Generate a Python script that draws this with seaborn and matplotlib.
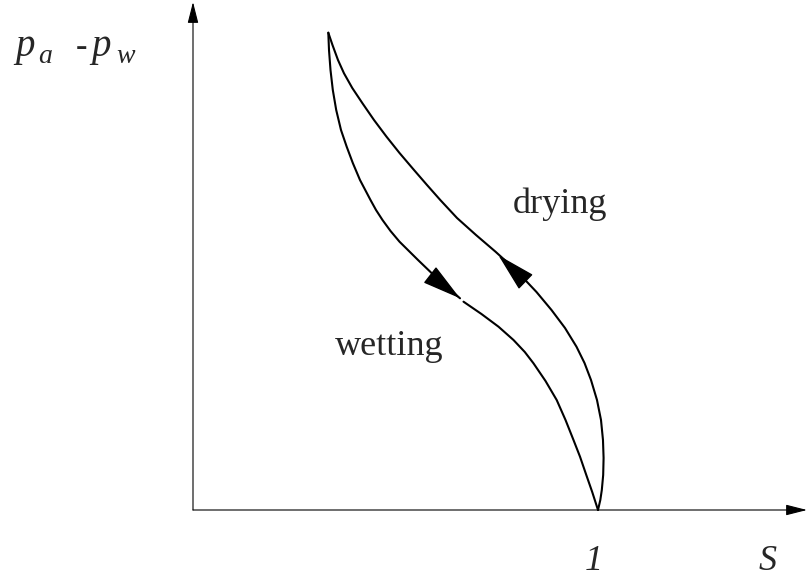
import matplotlib
matplotlib.use("Agg")
import matplotlib.pyplot as plt
import seaborn as sns
import pandas as pd

sns.set_theme(style="white")
plt.rcParams["font.family"] = ["Liberation Serif", "DejaVu Serif"]

# Wetting branch (saturation S, capillary pressure pa - pw), split at the arrow
wetting_upper_S = [0.3341, 0.3358, 0.3395, 0.3452, 0.3536, 0.3654, 0.3795, 0.3946,
                   0.4123, 0.4383, 0.4519, 0.4679, 0.4877, 0.5099, 0.5556, 0.6069,
                   0.6593]
wetting_upper_p = [0.9985, 0.9623, 0.9205, 0.8787, 0.8368, 0.7950, 0.7600, 0.7259,
                   0.6904, 0.6485, 0.6276, 0.6067, 0.5837, 0.5613, 0.5230, 0.4812,
                   0.4429]
wetting_lower_S = [0.6679, 0.7123, 0.7543, 0.7914, 0.8193, 0.8407, 0.8704, 0.8980,
                   0.9198, 0.9395, 0.9556, 0.9711, 0.9857, 1.0000]
wetting_lower_p = [0.4358, 0.4100, 0.3835, 0.3556, 0.3305, 0.3069, 0.2699, 0.2301,
                   0.1883, 0.1464, 0.1115, 0.0732, 0.0377, 0.0000]

# Drying branch
drying_S = [0.3341, 0.3444, 0.3580, 0.3728, 0.3933, 0.4185, 0.4469, 0.4778, 0.5099,
            0.5457, 0.5778, 0.6106, 0.6519, 0.6988, 0.7469, 0.7778, 0.8062, 0.8481,
            0.8852, 0.9185, 0.9469, 0.9667, 0.9827, 0.9975, 1.0074, 1.0123, 1.0138,
            1.0128, 1.0094, 1.0057, 1.0000]
drying_p = [0.9985, 0.9728, 0.9414, 0.9136, 0.8828, 0.8508, 0.8159, 0.7810, 0.7469,
            0.7113, 0.6799, 0.6485, 0.6109, 0.5753, 0.5404, 0.5167, 0.4937, 0.4561,
            0.4184, 0.3808, 0.3416, 0.3075, 0.2720, 0.2301, 0.1883, 0.1464, 0.1088,
            0.0732, 0.0418, 0.0209, 0.0000]

# Direction arrows: (tail, tip)
wetting_arrow = [(0.591, 0.488), (0.6593, 0.4429)]
drying_arrow = [(0.815, 0.483), (0.754, 0.533)]

branch_labels = ["wetting", "drying"]
branch_label_pos = [(0.351, 0.324), (0.790, 0.622)]

x_tick_value = 1
x_tick_label = "1"

df = pd.concat([
    pd.DataFrame({"S": wetting_upper_S, "p": wetting_upper_p, "seg": "w1"}),
    pd.DataFrame({"S": wetting_lower_S, "p": wetting_lower_p, "seg": "w2"}),
    pd.DataFrame({"S": drying_S, "p": drying_p, "seg": "d"}),
], ignore_index=True)

fig = plt.figure(figsize=(8.07, 5.79), dpi=100)
ax = fig.add_axes([0, 0, 1, 1])
ax.set_xlim(-193 / 405, 614 / 405)
ax.set_ylim(-69 / 478, 510 / 478)
ax.axis("off")

sns.lineplot(data=df, x="S", y="p", units="seg", estimator=None, sort=False,
             color="black", lw=1.5, ax=ax)

# Coordinate axes with arrowheads
axis_style = dict(arrowstyle="-|>,head_length=13,head_width=3.3", color="black",
                  lw=0.8, shrinkA=0, shrinkB=0, mutation_scale=1)
ax.annotate("", xy=(0, 508 / 478), xytext=(0, 0), arrowprops=axis_style)
ax.annotate("", xy=(614 / 405, 0), xytext=(0, 0), arrowprops=axis_style)

# Flow-direction arrowheads on the loop
head_style = dict(arrowstyle="-|>,head_length=25,head_width=6.5", color="black",
                  lw=1.0, shrinkA=0, shrinkB=0, mutation_scale=1)
for tail, tip in (wetting_arrow, drying_arrow):
    ax.annotate("", xy=tip, xytext=tail, arrowprops=head_style)

for lab, (sx, py) in zip(branch_labels, branch_label_pos):
    ax.text(sx, py, lab, fontsize=26, ha="left", va="baseline")

# Axis labels
ax.text(x_tick_value - 0.01, -0.1255, x_tick_label, fontsize=26, style="italic",
        ha="center", va="baseline")
ax.text(1.419, -0.1255, "S", fontsize=26, style="italic", ha="center", va="baseline")

# Ordinate label pa - pw
ax.text(-0.440, 0.950, "p", fontsize=28, style="italic", ha="left", va="baseline")
ax.text(-0.383, 0.935, "a", fontsize=20, style="italic", ha="left", va="baseline")
ax.text(-0.290, 0.950, "-", fontsize=25, ha="left", va="baseline")
ax.text(-0.252, 0.950, "p", fontsize=28, style="italic", ha="left", va="baseline")
ax.text(-0.190, 0.935, "w", fontsize=20, style="italic", ha="left", va="baseline")

fig.savefig("out.png", dpi=100, facecolor="white")
